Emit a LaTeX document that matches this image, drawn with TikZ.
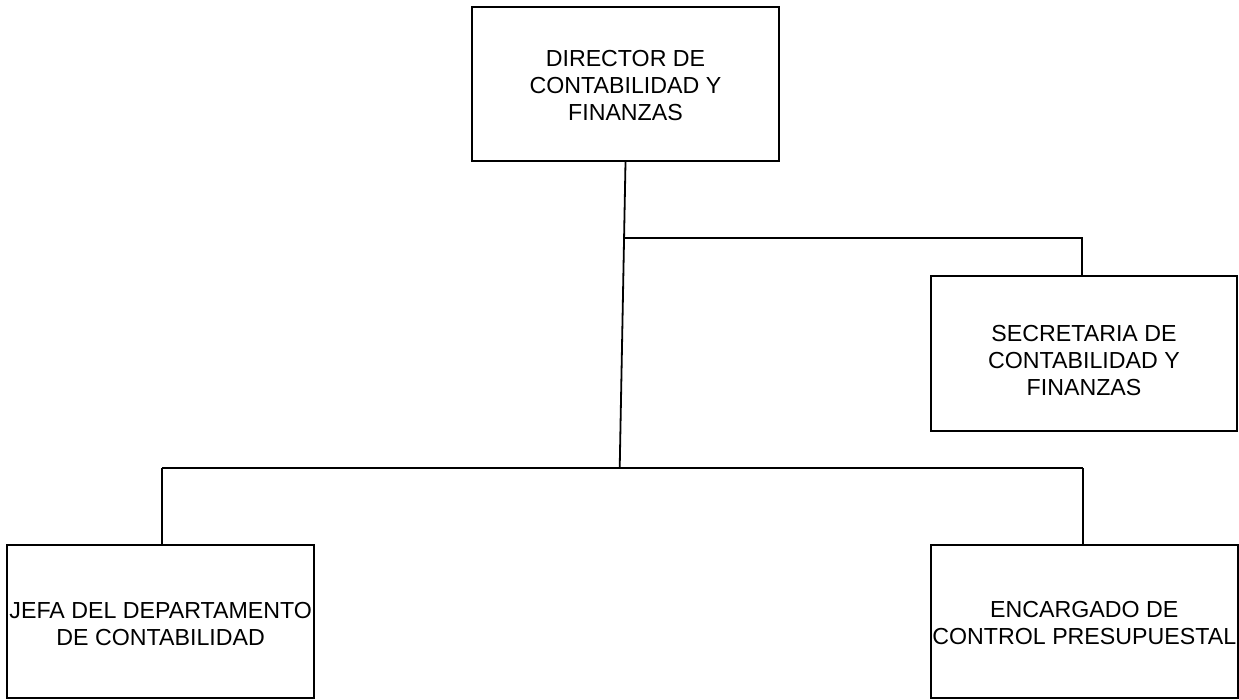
\documentclass[tikz,border=0pt]{standalone}
\usepackage{fontspec}
\setmainfont{Liberation Sans}
\begin{document}
\begin{tikzpicture}[x=1pt,y=-1pt,
  box/.style={draw=black,line width=2pt,inner sep=0pt,rectangle},
  lbl/.style={align=center,inner sep=0pt,font=\fontsize{23.2}{27}\selectfont},
  conn/.style={draw=black,line width=1.8pt}]
\useasboundingbox (0,0) rectangle (1239,699);
% boxes
\node[box,minimum width=307pt,minimum height=154pt] (dir) at (625.5,84) {};
\node[box,minimum width=306pt,minimum height=155pt] (sec) at (1084,353.5) {};
\node[box,minimum width=306.7pt,minimum height=153pt] (jef) at (160.7,621.5) {};
\node[box,minimum width=307pt,minimum height=153pt] (enc) at (1084.3,621.5) {};
% labels
\node[lbl] (dirT) at (625.5,86) {DIRECTOR DE\\CONTABILIDAD Y\\FINANZAS};
\node[lbl] (secT) at (1084,360.5) {SECRETARIA DE\\CONTABILIDAD Y\\FINANZAS};
\node[lbl] (jefT) at (160.7,623.7) {JEFA DEL DEPARTAMENTO\\DE CONTABILIDAD};
\node[lbl] (encT) at (1084.3,623.5) {ENCARGADO DE\\CONTROL PRESUPUESTAL};
% connectors
\coordinate (j2) at (624,237.7);
\coordinate (j3) at (619.7,468);
\coordinate (s1) at (1081.7,237.7);
\coordinate (bl) at (162,468);
\coordinate (br) at (1082.7,468);
\draw[conn] (dir.south) -- (j3);
\draw[conn] (j2) -- (s1) -- (s1 |- sec.north);
\draw[conn] (bl) -- (br);
\draw[conn] (bl) -- (bl |- jef.north);
\draw[conn] (br) -- (br |- enc.north);
\end{tikzpicture}
\end{document}
